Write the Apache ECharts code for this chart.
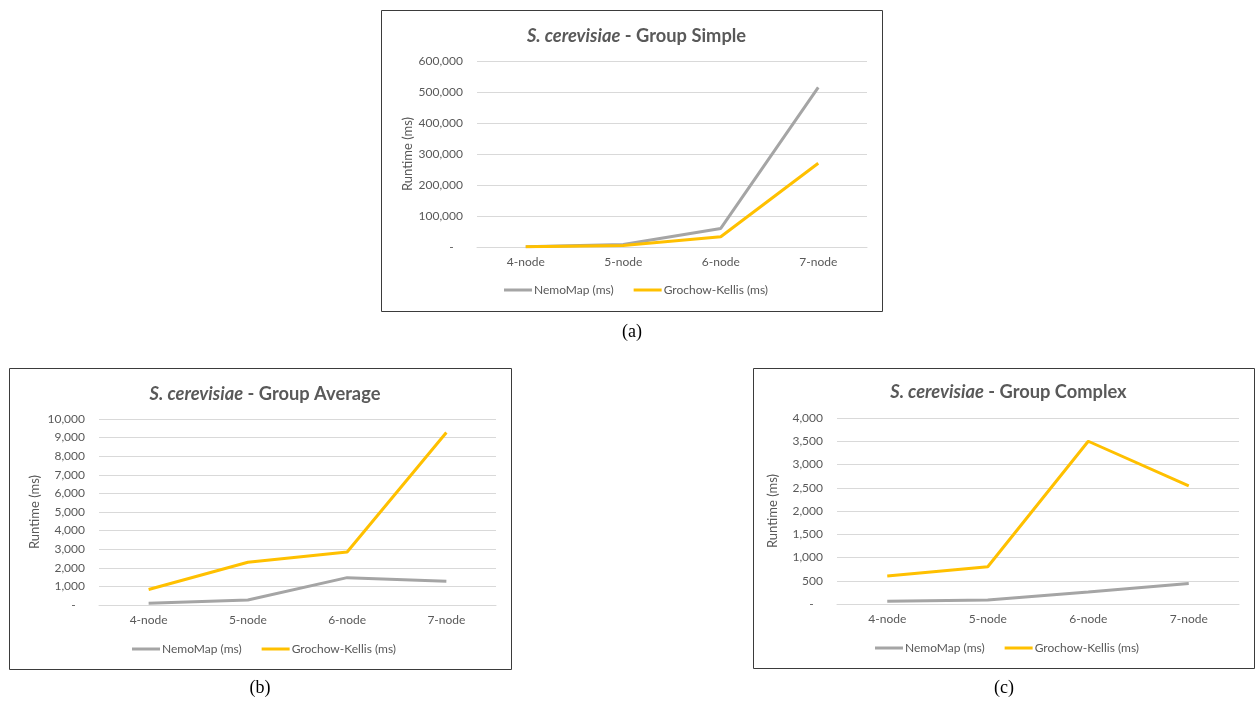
<!DOCTYPE html>
<html>
<head>
<meta charset="utf-8">
<title>S. cerevisiae runtime comparison</title>
<script src="https://cdn.jsdelivr.net/npm/echarts@6/dist/echarts.min.js"></script>
<style>
  html, body { margin: 0; padding: 0; background: #ffffff; }
  #chart { width: 1255px; height: 702px; }
</style>
</head>
<body>
<div id="chart"></div>
<script>
// Motif sizes on the category axis
const categories = ['4-node', '5-node', '6-node', '7-node'];

// Runtimes (ms) per group
const simpleNemo = [1200, 8000, 60000, 515000];
const simpleGK = [600, 5000, 33000, 270000];
const averageNemo = [90, 270, 1470, 1280];
const averageGK = [830, 2300, 2850, 9270];
const complexNemo = [60, 85, 260, 440];
const complexGK = [600, 800, 3500, 2540];

// Value axis ranges: [max, interval]
const simpleAxis = [600000, 100000];
const averageAxis = [10000, 1000];
const complexAxis = [4000, 500];

const seriesNames = ['NemoMap (ms)', 'Grochow-Kellis (ms)'];
const panelTitles = ['Group Simple', 'Group Average', 'Group Complex'];
const panelLabels = ['(a)', '(b)', '(c)'];

const GREY = '#A5A5A5';
const GOLD = '#FFC000';
const TEXT = '#595959';
const FONT = 'Lato, "Open Sans", sans-serif';

function withCommas(v) {
  if (v === 0) return '-   ';
  return String(v).replace(/\B(?=(\d{3})+(?!\d))/g, ',');
}

// Layout of each panel: frame box, plot grid, title, legend, caption
const panels = [
  { box: [381, 10, 501, 301], grid: [477, 61, 390, 186], titleY: 22, legend: [504, 284], cap: [632, 332], axis: simpleAxis, data: [simpleNemo, simpleGK] },
  { box: [9, 368, 502, 301], grid: [99, 419, 397, 186], titleY: 380, legend: [132, 643], cap: [260, 688], axis: averageAxis, data: [averageNemo, averageGK] },
  { box: [753, 368, 501, 300], grid: [837, 418, 402, 186], titleY: 378, legend: [875, 642], cap: [1004, 688], axis: complexAxis, data: [complexNemo, complexGK] }
];

const option = {
  animation: false,
  backgroundColor: '#ffffff',
  title: [],
  legend: [],
  grid: [],
  xAxis: [],
  yAxis: [],
  series: [],
  graphic: []
};

panels.forEach((p, i) => {
  const boxCenterX = p.box[0] + p.box[2] / 2;
  option.graphic.push({
    type: 'rect',
    shape: { x: p.box[0] + 0.5, y: p.box[1] + 0.5, width: p.box[2], height: p.box[3] },
    style: { fill: 'none', stroke: '#3b3b3b', lineWidth: 1 },
    silent: true
  });
  option.graphic.push({
    type: 'text',
    x: p.cap[0],
    y: p.cap[1],
    style: {
      text: panelLabels[i],
      font: '18px "Liberation Serif", "Times New Roman", serif',
      fill: '#000000',
      textAlign: 'center',
      textVerticalAlign: 'middle'
    },
    silent: true
  });

  option.title.push({
    text: '{i|S. cerevisiae}{n| - ' + panelTitles[i] + '}',
    left: boxCenterX,
    textAlign: 'center',
    top: p.titleY,
    textStyle: {
      rich: {
        i: { fontFamily: FONT, fontSize: 18.3, fontWeight: 'bold', fontStyle: 'italic', color: TEXT },
        n: { fontFamily: FONT, fontSize: 18.3, fontWeight: 'bold', color: TEXT }
      }
    }
  });

  option.legend.push({
    left: p.legend[0],
    top: p.legend[1],
    padding: 0,
    data: seriesNames,
    icon: 'rect',
    itemWidth: 28,
    itemHeight: 3,
    itemGap: 20,
    textStyle: { fontFamily: FONT, fontSize: 12, color: TEXT, padding: [0, 0, 0, -3] }
  });

  option.grid.push({
    left: p.grid[0], top: p.grid[1], width: p.grid[2], height: p.grid[3],
    containLabel: false
  });

  option.xAxis.push({
    type: 'category',
    gridIndex: i,
    data: categories,
    boundaryGap: true,
    axisLine: { show: true, lineStyle: { color: '#D9D9D9', width: 1 } },
    axisTick: { show: false },
    axisLabel: { fontFamily: FONT, fontSize: 12, color: TEXT, margin: 9 }
  });

  option.yAxis.push({
    type: 'value',
    gridIndex: i,
    min: 0,
    max: p.axis[0],
    interval: p.axis[1],
    name: 'Runtime (ms)',
    nameLocation: 'middle',
    nameGap: 58,
    nameRotate: 90,
    nameTextStyle: { fontFamily: FONT, fontSize: 13, color: TEXT },
    axisLine: { show: false },
    axisTick: { show: false },
    axisLabel: { fontFamily: FONT, fontSize: 12, color: TEXT, margin: 14, formatter: withCommas },
    splitLine: { show: true, lineStyle: { color: '#D9D9D9', width: 1 } }
  });

  [GREY, GOLD].forEach((c, k) => {
    option.series.push({
      name: seriesNames[k],
      type: 'line',
      xAxisIndex: i,
      yAxisIndex: i,
      data: p.data[k],
      showSymbol: false,
      symbol: 'none',
      lineStyle: { color: c, width: 3 },
      itemStyle: { color: c },
      z: 2 + k
    });
  });
});

const chart = echarts.init(document.getElementById('chart'), null, { renderer: 'canvas' });
chart.setOption(option);
</script>
</body>
</html>
